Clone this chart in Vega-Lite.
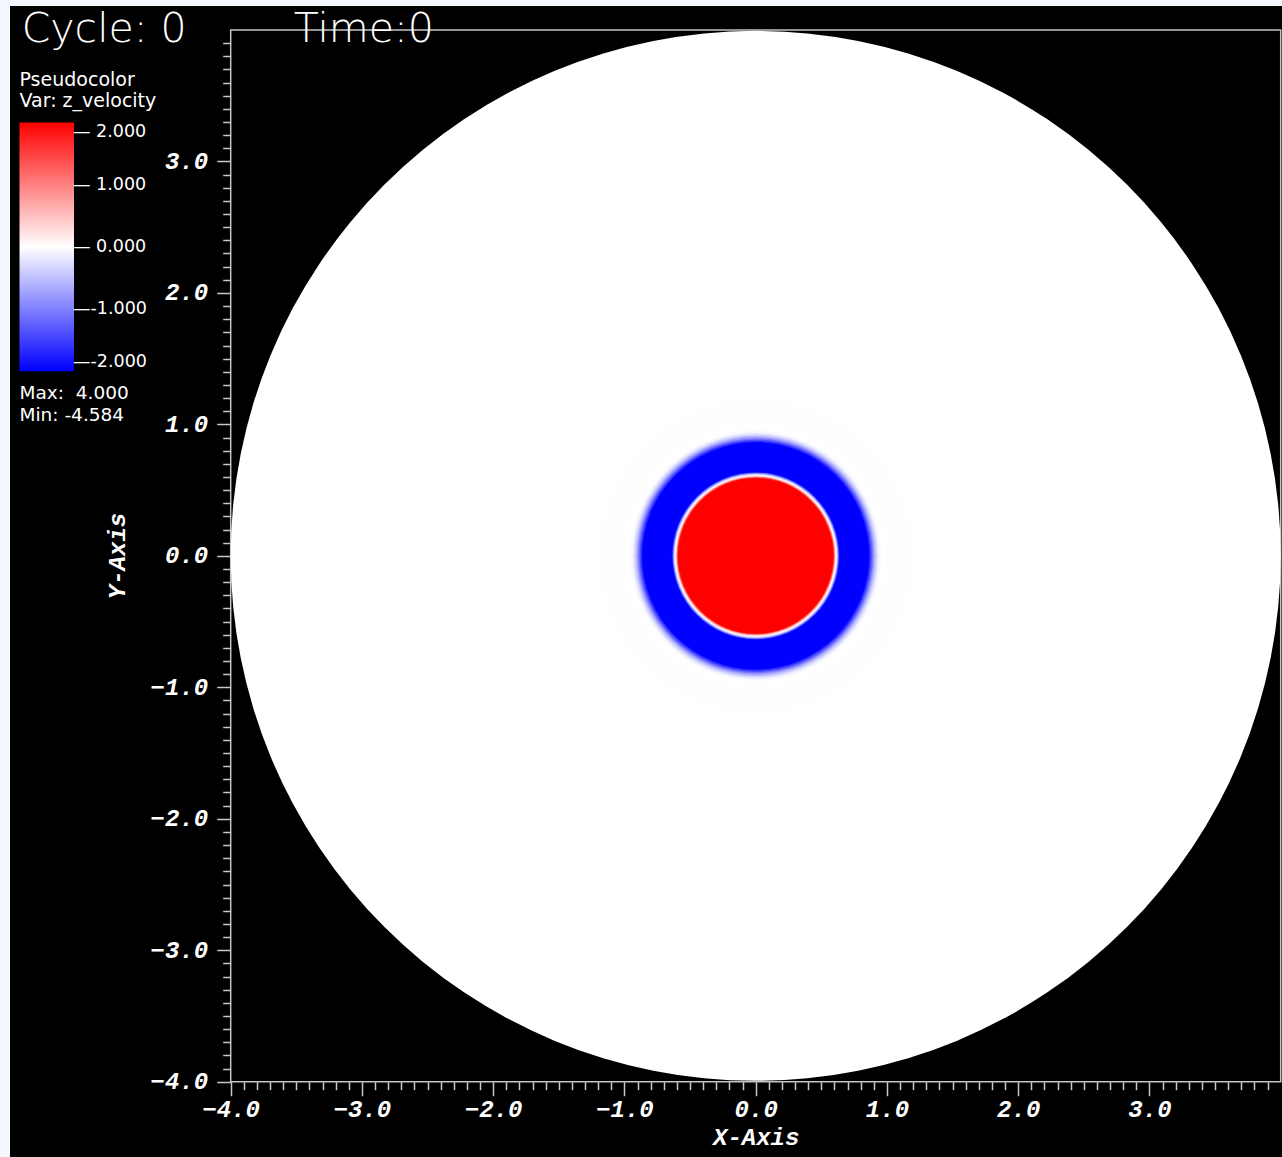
{
  "$schema": "https://vega.github.io/schema/vega-lite/v6.json",
  "width": 1272,
  "height": 1151,
  "autosize": {"type": "none"},
  "padding": {"left": 10, "top": 6, "right": 0, "bottom": 0},
  "background": "#f4f7fd",
  "config": {"view": {"fill": "#000000", "stroke": null}},
  "resolve": {"axis": {"x": "independent", "y": "independent"}},
  "datasets": {
    "profile": [
      {"r": 4.0, "z_velocity": 0.0},
      {"r": 1.2, "z_velocity": -0.006},
      {"r": 1.13, "z_velocity": -0.01},
      {"r": 1.08, "z_velocity": -0.004},
      {"r": 1.0, "z_velocity": 0.0},
      {"r": 0.96, "z_velocity": -0.02},
      {"r": 0.945, "z_velocity": -0.08},
      {"r": 0.935, "z_velocity": -0.2},
      {"r": 0.925, "z_velocity": -0.35},
      {"r": 0.915, "z_velocity": -0.55},
      {"r": 0.905, "z_velocity": -0.8},
      {"r": 0.895, "z_velocity": -1.1},
      {"r": 0.885, "z_velocity": -1.4},
      {"r": 0.875, "z_velocity": -1.7},
      {"r": 0.865, "z_velocity": -2.0},
      {"r": 0.855, "z_velocity": -2.4},
      {"r": 0.8, "z_velocity": -3.6},
      {"r": 0.75, "z_velocity": -4.584},
      {"r": 0.7, "z_velocity": -3.8},
      {"r": 0.65, "z_velocity": -2.5},
      {"r": 0.64, "z_velocity": -1.9},
      {"r": 0.635, "z_velocity": -1.4},
      {"r": 0.63, "z_velocity": -0.9},
      {"r": 0.625, "z_velocity": -0.5},
      {"r": 0.62, "z_velocity": -0.15},
      {"r": 0.615, "z_velocity": 0.0},
      {"r": 0.61, "z_velocity": 0.3},
      {"r": 0.605, "z_velocity": 0.8},
      {"r": 0.6, "z_velocity": 1.3},
      {"r": 0.595, "z_velocity": 1.8},
      {"r": 0.59, "z_velocity": 2.3},
      {"r": 0.55, "z_velocity": 3.2},
      {"r": 0.4, "z_velocity": 4.0}
    ],
    "extent": [{"xmin": -4, "xmax": 4, "ymin": -4, "ymax": 4}],
    "state": [{"cycle": 0, "time": 0}]
  },
  "layer": [
    {
      "data": {"name": "extent"},
      "mark": {"type": "rect", "fill": null, "stroke": "#c4c4c4", "strokeWidth": 1.5},
      "encoding": {
        "x": {
          "field": "xmin", "type": "quantitative",
          "scale": {"domain": [-5.6815, 4.0099], "nice": false, "zero": false},
          "axis": {
            "orient": "bottom", "offset": -75.3,
            "values": [-4,-3.9,-3.8,-3.7,-3.6,-3.5,-3.4,-3.3,-3.2,-3.1,-3,-2.9,-2.8,-2.7,-2.6,-2.5,-2.4,-2.3,-2.2,-2.1,-2,-1.9,-1.8,-1.7,-1.6,-1.5,-1.4,-1.3,-1.2,-1.1,-1,-0.9,-0.8,-0.7,-0.6,-0.5,-0.4,-0.3,-0.2,-0.1,0,0.1,0.2,0.3,0.4,0.5,0.6,0.7,0.8,0.9,1,1.1,1.2,1.3,1.4,1.5,1.6,1.7,1.8,1.9,2,2.1,2.2,2.3,2.4,2.5,2.6,2.7,2.8,2.9,3,3.1,3.2,3.3,3.4,3.5,3.6,3.7,3.8,3.9],
            "domain": false, "grid": false,
            "tickColor": "#c8c8c8", "tickWidth": 1.5,
            "tickSize": {"condition": {"test": "abs(datum.value - round(datum.value)) < 0.001", "value": 14}, "value": 8},
            "labelExpr": "abs(datum.value - round(datum.value)) < 0.001 ? format(datum.value, '.1f') : ''",
            "labelFont": "Liberation Mono", "labelFontStyle": "italic", "labelFontWeight": "bold",
            "labelFontSize": 24, "labelColor": "#ffffff", "labelPadding": 2,
            "labelOverlap": false, "labelFlush": false, "labelBound": false,
            "title": "X-Axis", "titleFont": "Liberation Mono", "titleFontStyle": "italic", "titleFontWeight": "bold",
            "titleFontSize": 24, "titleColor": "#ffffff", "titlePadding": 4, "titleX": 745.7
          }
        },
        "x2": {"field": "xmax"},
        "y": {
          "field": "ymin", "type": "quantitative",
          "scale": {"domain": [-4.5728, 4.1826], "nice": false, "zero": false},
          "axis": {
            "orient": "left", "offset": -220.7,
            "values": [-4,-3.9,-3.8,-3.7,-3.6,-3.5,-3.4,-3.3,-3.2,-3.1,-3,-2.9,-2.8,-2.7,-2.6,-2.5,-2.4,-2.3,-2.2,-2.1,-2,-1.9,-1.8,-1.7,-1.6,-1.5,-1.4,-1.3,-1.2,-1.1,-1,-0.9,-0.8,-0.7,-0.6,-0.5,-0.4,-0.3,-0.2,-0.1,0,0.1,0.2,0.3,0.4,0.5,0.6,0.7,0.8,0.9,1,1.1,1.2,1.3,1.4,1.5,1.6,1.7,1.8,1.9,2,2.1,2.2,2.3,2.4,2.5,2.6,2.7,2.8,2.9,3,3.1,3.2,3.3,3.4,3.5,3.6,3.7,3.8,3.9],
            "domain": false, "grid": false,
            "tickColor": "#c8c8c8", "tickWidth": 1.5,
            "tickSize": {"condition": {"test": "abs(datum.value - round(datum.value)) < 0.001", "value": 14}, "value": 8},
            "labelExpr": "abs(datum.value - round(datum.value)) < 0.001 ? format(datum.value, '.1f') : ''",
            "labelFont": "Liberation Mono", "labelFontStyle": "italic", "labelFontWeight": "bold",
            "labelFontSize": 24, "labelColor": "#ffffff", "labelPadding": 9,
            "labelOverlap": false, "labelFlush": false, "labelBound": false,
            "title": "Y-Axis", "titleFont": "Liberation Mono", "titleFontStyle": "italic", "titleFontWeight": "bold",
            "titleFontSize": 24, "titleColor": "#ffffff", "titlePadding": 21, "titleY": 549.5
          }
        },
        "y2": {"field": "ymax"}
      }
    },
    {
      "data": {"name": "profile"},
      "mark": {"type": "circle", "opacity": 1, "stroke": null},
      "encoding": {
        "x": {"datum": 0, "type": "quantitative", "scale": {"domain": [-5.6815, 4.0099], "nice": false, "zero": false}, "axis": null},
        "y": {"datum": 0, "type": "quantitative", "scale": {"domain": [-4.5728, 4.1826], "nice": false, "zero": false}, "axis": null},
        "size": {
          "field": "r", "type": "quantitative",
          "scale": {"type": "pow", "exponent": 2, "domain": [0, 4], "range": [0, 1102500]},
          "legend": null
        },
        "color": {
          "field": "z_velocity", "type": "quantitative",
          "scale": {"domain": [-2, 0, 2], "range": ["#0000ff", "#ffffff", "#ff0000"], "interpolate": "rgb", "clamp": true},
          "legend": {
            "orient": "none", "legendX": 9.5, "legendY": 64.6, "direction": "vertical", "padding": 0,
            "title": ["Pseudocolor", "Var: z_velocity"],
            "titleFont": "DejaVu Sans", "titleFontSize": 19, "titleFontWeight": "normal",
            "titleColor": "#ffffff", "titleLineHeight": 21, "titlePadding": 12, "titleAnchor": "start",
            "gradientLength": 248.6, "gradientThickness": 54.5, "gradientStrokeWidth": 0,
            "values": [2, 1, 0, -1, -2],
            "labelExpr": "(datum.value < 0 ? '\u2014' : '\u2014 ') + replace(format(datum.value, '.3f'), '\u2212', '-')",
            "labelFont": "DejaVu Sans", "labelFontSize": 17.5, "labelColor": "#ffffff",
            "labelOffset": -1, "labelAlign": "left", "labelOverlap": false,
            "encode": {"labels": {"update": {"baseline": {"value": "middle"}}}}
          }
        },
        "order": {"field": "r", "sort": "descending"}
      }
    },
    {
      "data": {"name": "state"},
      "transform": [{"calculate": "'Cycle: ' + datum.cycle", "as": "label"}],
      "mark": {"type": "text", "align": "left", "baseline": "alphabetic", "font": "DejaVu Sans", "fontSize": 41, "fontWeight": 200, "fill": "#ffffff"},
      "encoding": {
        "x": {"datum": -5.5924, "type": "quantitative", "scale": {"domain": [-5.6815, 4.0099], "nice": false, "zero": false}, "axis": null},
        "y": {"datum": 3.911, "type": "quantitative", "scale": {"domain": [-4.5728, 4.1826], "nice": false, "zero": false}, "axis": null},
        "text": {"field": "label"}
      }
    },
    {
      "data": {"name": "state"},
      "transform": [{"calculate": "'Time:' + datum.time", "as": "label"}],
      "mark": {"type": "text", "align": "left", "baseline": "alphabetic", "font": "DejaVu Sans", "fontSize": 41, "fontWeight": 200, "fill": "#ffffff"},
      "encoding": {
        "x": {"datum": -3.52, "type": "quantitative", "scale": {"domain": [-5.6815, 4.0099], "nice": false, "zero": false}, "axis": null},
        "y": {"datum": 3.911, "type": "quantitative", "scale": {"domain": [-4.5728, 4.1826], "nice": false, "zero": false}, "axis": null},
        "text": {"field": "label"}
      }
    },
    {
      "data": {"name": "profile"},
      "transform": [
        {"aggregate": [{"op": "max", "field": "z_velocity", "as": "zmax"}, {"op": "min", "field": "z_velocity", "as": "zmin"}]},
        {"calculate": "['Max: \u00a0' + replace(format(datum.zmax, '.3f'), '\u2212', '-'), 'Min: ' + replace(format(datum.zmin, '.3f'), '\u2212', '-')]", "as": "lines"}
      ],
      "mark": {"type": "text", "align": "left", "baseline": "alphabetic", "font": "DejaVu Sans", "fontSize": 18.5, "lineHeight": 22, "fill": "#ffffff"},
      "encoding": {
        "x": {"datum": -5.6091, "type": "quantitative", "scale": {"domain": [-5.6815, 4.0099], "nice": false, "zero": false}, "axis": null},
        "y": {"datum": 1.1961, "type": "quantitative", "scale": {"domain": [-4.5728, 4.1826], "nice": false, "zero": false}, "axis": null},
        "text": {"field": "lines"}
      }
    }
  ]
}
